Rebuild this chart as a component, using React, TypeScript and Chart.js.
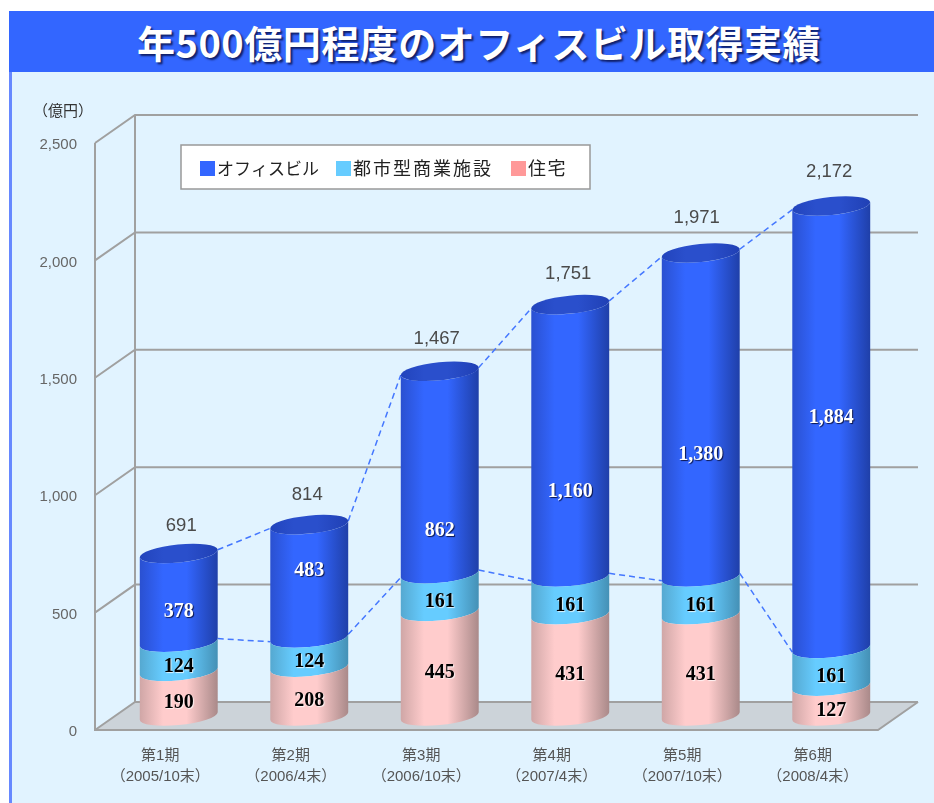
import React, { useEffect, useRef } from "react";
import { Chart, registerables } from "chart.js";

Chart.register(...registerables);

const categories = [
  ["第1期", "（2005/10末）"],
  ["第2期", "（2006/4末）"],
  ["第3期", "（2006/10末）"],
  ["第4期", "（2007/4末）"],
  ["第5期", "（2007/10末）"],
  ["第6期", "（2008/4末）"],
];
const housing = [190, 208, 445, 431, 431, 127];
const urbanRetail = [124, 124, 161, 161, 161, 161];
const office = [378, 483, 862, 1160, 1380, 1884];
const totals = [691, 814, 1467, 1751, 1971, 2172];
const yMax = 2500;
const yStep = 500;

const TITLE = "年500億円程度のオフィスビル取得実績";
const UNIT = "（億円）";
const JP = '"Noto Sans CJK JP", "Noto Sans", sans-serif';
const MIXED = '"Liberation Sans", "Noto Sans CJK JP", sans-serif';
const SERIF = '"Liberation Serif", serif';

// layout of the pseudo-3D box
const DEPTH_X = 40;
const DEPTH_Y = 28;
const BAR_DX = 18.5;
const BAR_DY = -14;
const ELL_B = 9;
const ELL_R = -0.1;
// nudges of the labels relative to their cylinder
const officeLabelNudge = [4, -20, 49, 42, 30, -19];
const totalLabelNudgeY = [-28, -30, -32, -31, -35, -34];
const totalLabelNudgeX = [2.5, -2, -3, -2, -4, -2];

const swatches = ["#3366FF", "#66CCFF", "#FF9999"];
const legendX = [200, 336, 511];
const legendFont = [17, 18, 18];
const legendSpacing = ["0px", "2px", "1.5px"];

const gradients: string[][] = [
  ["#CFA6A6", "#FFCCCC", "#FFCCCC", "#A98989"],
  ["#55A8D0", "#66CCFF", "#66CCFF", "#4490B5"],
  ["#2A50D0", "#3366FF", "#3366FF", "#1F3FA8"],
];

function ext(a: number) {
  const t = Math.atan2(-ELL_B * Math.sin(ELL_R), a * Math.cos(ELL_R));
  const ex = a * Math.cos(t) * Math.cos(ELL_R) - ELL_B * Math.sin(t) * Math.sin(ELL_R);
  const ey = a * Math.cos(t) * Math.sin(ELL_R) + ELL_B * Math.sin(t) * Math.cos(ELL_R);
  return { t, ex, ey };
}

function barGrad(ctx: CanvasRenderingContext2D, cx: number, a: number, st: string[]) {
  const g = ctx.createLinearGradient(cx - a, 0, cx + a, 0);
  g.addColorStop(0, st[0]);
  g.addColorStop(0.3, st[1]);
  g.addColorStop(0.6, st[2]);
  g.addColorStop(1, st[3]);
  return g;
}

const boxPlugin = {
  id: "box3d",
  beforeDatasetsDraw(chart: any) {
    const { ctx, chartArea, scales } = chart;
    const { left, right, bottom } = chartArea;
    const y = scales.y;
    ctx.save();
    // floor
    ctx.fillStyle = "#CCD3D9";
    ctx.beginPath();
    ctx.moveTo(left, bottom);
    ctx.lineTo(right, bottom);
    ctx.lineTo(right + DEPTH_X, bottom - DEPTH_Y);
    ctx.lineTo(left + DEPTH_X, bottom - DEPTH_Y);
    ctx.closePath();
    ctx.fill();
    ctx.strokeStyle = "#A0A0A0";
    ctx.lineWidth = 2;
    // gridlines on side and back wall
    for (let v = 0; v <= yMax; v += yStep) {
      const py = y.getPixelForValue(v);
      ctx.beginPath();
      ctx.moveTo(left, py);
      ctx.lineTo(left + DEPTH_X, py - DEPTH_Y);
      ctx.lineTo(right + DEPTH_X, py - DEPTH_Y);
      ctx.stroke();
    }
    ctx.beginPath();
    ctx.moveTo(left, y.getPixelForValue(yMax));
    ctx.lineTo(left, bottom);
    ctx.lineTo(right, bottom);
    ctx.lineTo(right + DEPTH_X, bottom - DEPTH_Y);
    ctx.moveTo(left + DEPTH_X, y.getPixelForValue(yMax) - DEPTH_Y);
    ctx.lineTo(left + DEPTH_X, bottom - DEPTH_Y);
    ctx.stroke();
    // dashed connectors between the tops of two series
    ctx.strokeStyle = "#4477FF";
    ctx.lineWidth = 1.5;
    ctx.setLineDash([6, 4]);
    [1, 2].forEach((d) => {
      const els = chart.getDatasetMeta(d).data;
      for (let i = 0; i < els.length - 1; i++) {
        const a = els[i].width / 2;
        const { ex, ey } = ext(a);
        ctx.beginPath();
        ctx.moveTo(els[i].x + BAR_DX + ex, els[i].y + BAR_DY + ey);
        ctx.lineTo(els[i + 1].x + BAR_DX - ex, els[i + 1].y + BAR_DY - ey);
        ctx.stroke();
      }
    });
    ctx.restore();
  },
  beforeDatasetDraw(chart: any, args: any) {
    const { ctx } = chart;
    const d = args.index;
    chart.getDatasetMeta(d).data.forEach((el: any) => {
      const a = el.width / 2;
      const cx = el.x + BAR_DX;
      const { t } = ext(a);
      ctx.save();
      ctx.fillStyle = barGrad(ctx, cx, a, gradients[d]);
      ctx.beginPath();
      ctx.ellipse(cx, el.y + BAR_DY, a, ELL_B, ELL_R, t, t + Math.PI, false);
      ctx.ellipse(cx, el.base + BAR_DY, a, ELL_B, ELL_R, t + Math.PI, t, true);
      ctx.closePath();
      ctx.fill();
      ctx.restore();
    });
    return false;
  },
  afterDatasetsDraw(chart: any) {
    const { ctx } = chart;
    ctx.save();
    // top caps
    chart.getDatasetMeta(2).data.forEach((el: any) => {
      const a = el.width / 2;
      const cx = el.x + BAR_DX;
      ctx.fillStyle = barGrad(ctx, cx, a, ["#2244BC", "#2A4FCC", "#2A4FCC", "#2040B4"]);
      ctx.beginPath();
      ctx.ellipse(cx, el.y + BAR_DY, a, ELL_B, ELL_R, 0, Math.PI * 2);
      ctx.fill();
    });
    // value labels inside segments
    ctx.textAlign = "center";
    ctx.textBaseline = "middle";
    ctx.font = `bold 20px ${SERIF}`;
    chart.data.datasets.forEach((ds: any, d: number) => {
      chart.getDatasetMeta(d).data.forEach((el: any, i: number) => {
        const cx = el.x + BAR_DX;
        let py = (el.y + el.base) / 2 + BAR_DY + 9.5;
        if (d === 2) py += officeLabelNudge[i];
        const text = ds.data[i].toLocaleString("en-US");
        ctx.shadowColor = d === 2 ? "rgba(0,0,30,0.8)" : "rgba(255,255,255,0.8)";
        ctx.shadowBlur = 1;
        ctx.shadowOffsetX = 1;
        ctx.shadowOffsetY = 1;
        ctx.fillStyle = d === 2 ? "#FFFFFF" : "#000000";
        ctx.fillText(text, cx, py);
      });
    });
    ctx.shadowColor = "transparent";
    ctx.shadowBlur = 0;
    ctx.shadowOffsetX = 0;
    ctx.shadowOffsetY = 0;
    // totals
    ctx.font = `18.5px ${MIXED}`;
    ctx.fillStyle = "#4A4A4A";
    chart.getDatasetMeta(2).data.forEach((el: any, i: number) => {
      ctx.fillText(
        totals[i].toLocaleString("en-US"),
        el.x + BAR_DX + totalLabelNudgeX[i],
        el.y + BAR_DY + totalLabelNudgeY[i],
      );
    });
    // unit label
    ctx.font = `15px ${JP}`;
    ctx.fillStyle = "#333333";
    ctx.textAlign = "left";
    ctx.fillText(UNIT, 33, 110);
    // legend
    ctx.fillStyle = "#FFFFFF";
    ctx.strokeStyle = "#999999";
    ctx.lineWidth = 1.5;
    ctx.fillRect(181, 145, 409, 44);
    ctx.strokeRect(181, 145, 409, 44);
    [2, 1, 0].forEach((d, k) => {
      const x = legendX[k];
      ctx.fillStyle = swatches[k];
      ctx.fillRect(x, 161, 15, 15);
      ctx.fillStyle = "#222222";
      ctx.font = `${legendFont[k]}px ${JP}`;
      (ctx as any).letterSpacing = legendSpacing[k];
      ctx.fillText(chart.data.datasets[d].label, x + 17, 168.5);
    });
    (ctx as any).letterSpacing = "0px";
    ctx.restore();
  },
};

export default function App() {
  const ref = useRef<HTMLCanvasElement>(null);
  useEffect(() => {
    const chart = new Chart(ref.current as HTMLCanvasElement, {
      type: "bar",
      data: {
        labels: categories,
        datasets: [
          { label: "住宅", data: housing, backgroundColor: "#FFCCCC" },
          { label: "都市型商業施設", data: urbanRetail, backgroundColor: "#66CCFF" },
          { label: "オフィスビル", data: office, backgroundColor: "#3366FF" },
        ],
      },
      options: {
        responsive: false,
        animation: false,
        events: [],
        layout: { padding: { left: 0, top: 143, right: 56, bottom: 0 } },
        datasets: { bar: { barPercentage: 0.6, categoryPercentage: 1 } },
        plugins: { legend: { display: false }, title: { display: false }, tooltip: { enabled: false } },
        scales: {
          x: {
            stacked: true,
            grid: { display: false, drawTicks: false },
            border: { display: false },
            afterFit: (s: any) => { s.height = 73; },
            ticks: {
              autoSkip: false,
              maxRotation: 0,
              minRotation: 0,
              padding: 16,
              color: "#555555",
              font: { family: MIXED, size: 15, lineHeight: 1.35 },
            },
          },
          y: {
            stacked: true,
            min: 0,
            max: yMax,
            grid: { display: false, drawTicks: false },
            border: { display: false },
            afterFit: (s: any) => { s.width = 95; },
            ticks: {
              stepSize: yStep,
              padding: 18,
              labelOffset: 2,
              color: "#666666",
              font: { family: MIXED, size: 15 },
              callback: (v: any) => Number(v).toLocaleString("en-US"),
            },
          },
        },
      } as any,
      plugins: [boxPlugin as any],
    });
    return () => chart.destroy();
  }, []);
  return (
    <div style={{ position: "fixed", left: 0, top: 0, width: 934, height: 803, background: "#FFFFFF", overflow: "hidden" }}>
      <div style={{ position: "absolute", left: 9, top: 11, width: 925, height: 792, background: "#E1F3FF", borderLeft: "3px solid #6688FF", boxSizing: "border-box" }} />
      <div
        style={{
          position: "absolute",
          left: 9,
          top: 11,
          width: 925,
          height: 61,
          boxSizing: "border-box",
          paddingLeft: 15,
          background: "#3366FF",
          color: "#FFFFFF",
          fontFamily: JP,
          fontWeight: 700,
          fontSize: 38,
          letterSpacing: 0.5,
          lineHeight: "61px",
          textAlign: "center",
          whiteSpace: "nowrap",
          textShadow: "2px 2px 2px rgba(0,0,40,0.7)",
        }}
      >
        {TITLE}
      </div>
      <canvas ref={ref} width={934} height={803} style={{ position: "absolute", left: 0, top: 0, display: "block", filter: "blur(0.35px)" }} />
    </div>
  );
}
